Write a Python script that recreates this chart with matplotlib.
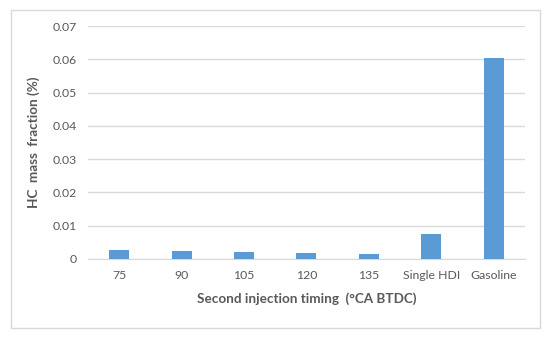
import matplotlib.pyplot as plt
from matplotlib.patches import Rectangle

categories = ['75', '90', '105', '120', '135', 'Single HDI', 'Gasoline']
hc_fraction = [0.0026, 0.0023, 0.0020, 0.0018, 0.0015, 0.0074, 0.0605]

plt.rcParams['font.family'] = ['Lato', 'DejaVu Sans']
txt = '#595959'

fig = plt.figure(figsize=(5.5, 3.37), dpi=100)
ax = fig.add_axes([0.16, 0.2315, 0.7945, 0.6913])

ax.bar(range(len(categories)), hc_fraction, width=0.32, color='#5B9BD5', zorder=3)
ax.set_xlim(-0.5, len(categories) - 0.5)
ax.set_ylim(0, 0.07)
ax.set_yticks([0, 0.01, 0.02, 0.03, 0.04, 0.05, 0.06, 0.07])
ax.set_yticklabels(['0', '0.01', '0.02', '0.03', '0.04', '0.05', '0.06', '0.07'])
ax.set_xticks(range(len(categories)))
ax.set_xticklabels(categories)
ax.grid(axis='y', color='#D9D9D9', linewidth=1, zorder=0)
ax.tick_params(length=0, labelsize=8.8, colors=txt, pad=8)
for s in ['top', 'right', 'left']:
    ax.spines[s].set_visible(False)
ax.spines['bottom'].set_color('#D9D9D9')

ax.set_xlabel('Second injection timing  (°CA BTDC)', fontsize=9.7, fontweight='bold', color=txt, labelpad=8)
ax.set_ylabel('HC  mass  fraction (%)', fontsize=9.7, fontweight='bold', color=txt, labelpad=9)

# outer chart frame
fig.patches.append(Rectangle((11 / 550, 1 - 328 / 337), 529 / 550, 318 / 337,
                             transform=fig.transFigure, fill=False,
                             edgecolor='#D9D9D9', linewidth=1))

fig.savefig('out.png', dpi=100)
